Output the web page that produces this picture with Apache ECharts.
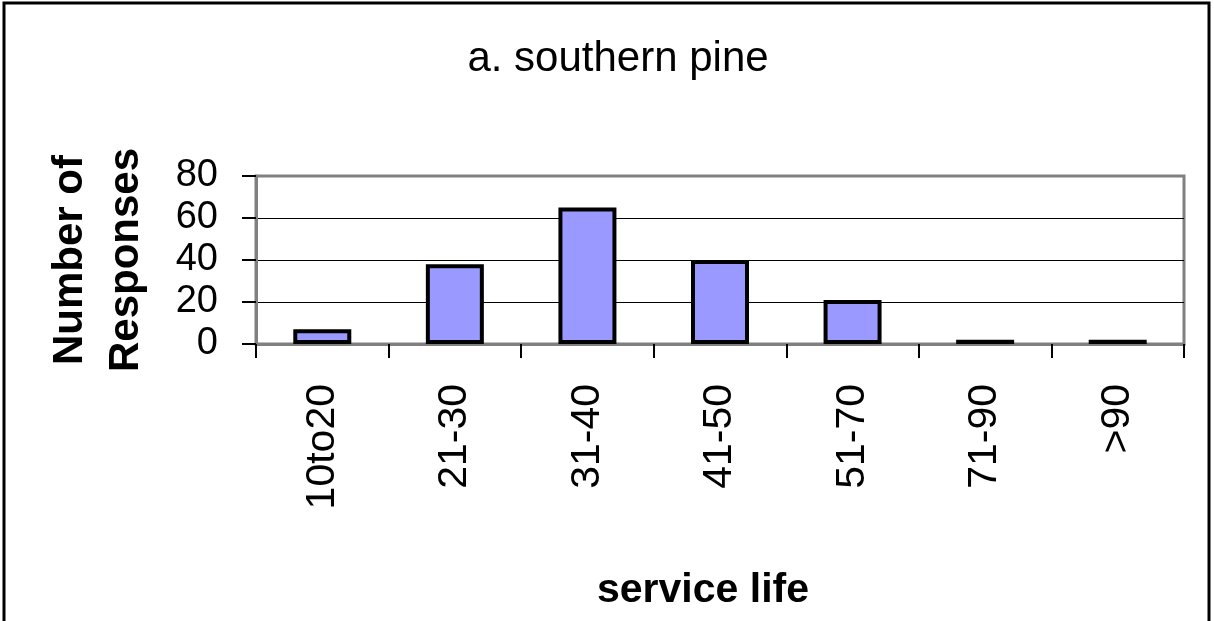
<!DOCTYPE html>
<html>
<head>
<meta charset="utf-8">
<title>a. southern pine</title>
<script src="https://cdn.jsdelivr.net/npm/echarts@6/dist/echarts.min.js"></script>
<style>
  html, body { margin: 0; padding: 0; background: #fff; }
  #main { width: 1214px; height: 621px; }
</style>
</head>
<body>
<div id="main"></div>
<script>
// data
var categories = ['10to20', '21-30', '31-40', '41-50', '51-70', '71-90', '>90'];
var responses = [7, 38, 65, 40, 21, 2, 2];
var yTicks = { min: 0, max: 80, interval: 20 };

var fontName = 'Liberation Sans, Arial, sans-serif';
var myChart = echarts.init(document.getElementById('main'));

var option = {
    animation: false,
    backgroundColor: '#fff',
    title: {
        text: 'a. southern pine',
        left: 613,
        textAlign: 'center',
        top: 33,
        textStyle: { fontFamily: fontName, fontSize: 42, fontWeight: 'normal', color: '#000' }
    },
    // outer frame of the chart area
    graphic: [{
        type: 'rect',
        shape: { x: 4, y: 3, width: 1205, height: 700 },
        style: { fill: null, stroke: '#000', lineWidth: 3 },
        silent: true
    }],
    grid: {
        left: 256, top: 176, width: 928, height: 168,
        show: true,
        borderColor: '#808080',
        borderWidth: 3,
        backgroundColor: '#fff'
    },
    xAxis: {
        type: 'category',
        data: categories,
        name: 'service life',
        nameLocation: 'middle',
        nameGap: 226,
        nameTextStyle: {
            fontFamily: fontName, fontSize: 41, fontWeight: 'bold', color: '#000',
            padding: [0, 34, 0, 0]
        },
        axisLine: { lineStyle: { color: '#808080', width: 3 } },
        axisTick: { show: true, interval: 0, length: 14, lineStyle: { color: '#000', width: 2 } },
        axisLabel: {
            interval: 0, rotate: 90, margin: 40,
            fontFamily: fontName, fontSize: 41, color: '#000'
        }
    },
    yAxis: {
        type: 'value',
        min: yTicks.min,
        max: yTicks.max,
        interval: yTicks.interval,
        name: 'Number of\nResponses',
        nameLocation: 'middle',
        nameRotate: 90,
        nameGap: 102,
        nameTextStyle: {
            fontFamily: fontName, fontSize: 42, fontWeight: 'bold', color: '#000', lineHeight: 56
        },
        axisLine: { show: true, lineStyle: { color: '#808080', width: 3 } },
        axisTick: { show: true, length: 14, lineStyle: { color: '#000', width: 2 } },
        axisLabel: { margin: 38, fontFamily: fontName, fontSize: 38, color: '#000' },
        splitLine: { show: true, showMaxLine: false, lineStyle: { color: '#000', width: 1 } }
    },
    series: [{
        type: 'bar',
        data: responses,
        barWidth: 58,
        itemStyle: { color: '#9999FF', borderColor: '#000', borderWidth: 4 }
    }]
};

myChart.setOption(option);
</script>
</body>
</html>
